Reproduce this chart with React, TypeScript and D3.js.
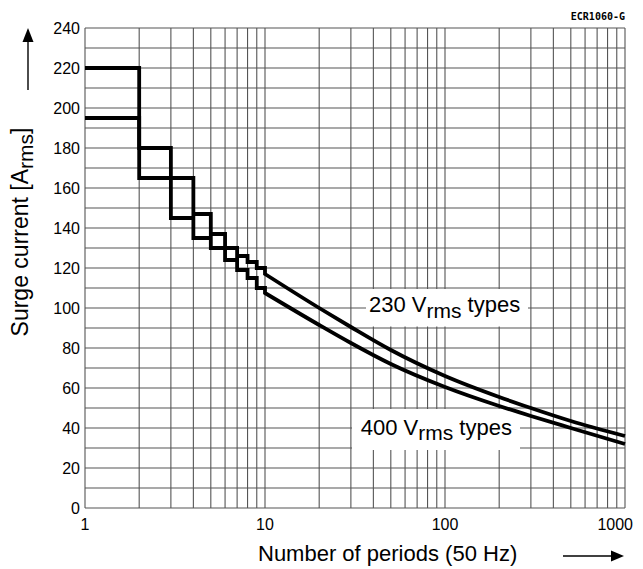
import React from "react";
import * as d3 from "d3";

// Surge current vs. number of 50 Hz periods
const yTicks = [0, 20, 40, 60, 80, 100, 120, 140, 160, 180, 200, 220, 240];
const xTicks = [1, 10, 100, 1000];
const xTickLabels = ["1", "10", "100", "1000"];

// stepped part: one value per period interval [n, n+1)
const periodsStep = [1, 2, 3, 4, 5, 6, 7, 8, 9, 10];
const surge230Step = [220, 180, 165, 147, 137, 130, 126, 123, 120];
const surge400Step = [195, 165, 145, 135, 130, 124, 119, 115, 110];

// continuous part from 10 periods on
const periodsCurve = [10, 20, 30, 50, 100, 200, 300, 500, 1000];
const surge230Curve = [117, 100, 90.5, 79, 66, 55.5, 50, 43.5, 36];
const surge400Curve = [107.5, 91.5, 82.5, 72, 60.5, 51, 46, 40, 32];

const W = 643;
const H = 569;
const FONT = "'Liberation Sans', Arial, Helvetica, sans-serif";

export default function App() {
  const x = d3.scaleLog().domain([1, 1000]).range([85, 625]);
  const y = d3.scaleLinear().domain([0, 240]).range([508, 28]);

  const vGrid: number[] = [];
  for (let dec = 1; dec < 1000; dec *= 10) {
    for (let k = 1; k <= 10; k++) vGrid.push(dec * k);
  }
  const uniqV = Array.from(new Set(vGrid));
  const hGrid = d3.range(0, 241, 10);

  const stepLine = d3
    .line<[number, number]>()
    .x((d) => x(d[0]))
    .y((d) => y(d[1]))
    .curve(d3.curveStepAfter);
  const smoothLine = d3
    .line<[number, number]>()
    .x((d) => x(d[0]))
    .y((d) => y(d[1]))
    .curve(d3.curveMonotoneX);

  const buildPath = (steps: number[], curve: number[]) => {
    const stepPts: [number, number][] = steps.map((v, i) => [periodsStep[i], v]);
    stepPts.push([periodsStep[steps.length], curve[0]]);
    const curvePts: [number, number][] = periodsCurve.map((p, i) => [p, curve[i]]);
    const a = stepLine(stepPts) || "";
    const b = (smoothLine(curvePts) || "").replace(/^M/, "L");
    return a + b;
  };

  const path230 = buildPath(surge230Step, surge230Curve);
  const path400 = buildPath(surge400Step, surge400Curve);

  const gridColor = "#555";

  return (
    <svg
      width={W}
      height={H}
      viewBox={`0 0 ${W} ${H}`}
      style={{ position: "absolute", left: 0, top: 0, background: "#fff" }}
      fontFamily={FONT}
    >
      <rect x={0} y={0} width={W} height={H} fill="#fff" />

      {/* grid */}
      <g stroke={gridColor} strokeWidth={1.1}>
        {hGrid.map((v) => (
          <line key={"h" + v} x1={x(1)} x2={x(1000)} y1={y(v)} y2={y(v)} />
        ))}
        {uniqV.map((v) => (
          <line key={"v" + v} x1={x(v)} x2={x(v)} y1={y(0)} y2={y(240)} />
        ))}
      </g>

      {/* label backgrounds */}
      <rect x={366} y={289} width={162} height={37.5} fill="#fff" />
      <rect x={352} y={409} width={168} height={41} fill="#fff" />

      {/* curves */}
      <g fill="none" stroke="#000" strokeWidth={3.8} strokeLinejoin="miter">
        <path d={path230} />
        <path d={path400} />
      </g>

      {/* y tick labels */}
      <g fontSize={16} textAnchor="end" fill="#000">
        {yTicks.map((v) => (
          <text key={"yt" + v} x={80} y={y(v) + 5.8}>
            {v}
          </text>
        ))}
      </g>

      {/* x tick labels */}
      <g fontSize={16} fill="#000">
        {xTicks.map((v, i) => {
          const last = i === xTicks.length - 1;
          return (
            <text
              key={"xt" + v}
              x={last ? x(v) + 8 : x(v)}
              y={530}
              textAnchor={last ? "end" : "middle"}
            >
              {xTickLabels[i]}
            </text>
          );
        })}
      </g>

      {/* series labels */}
      <text x={369} y={312.3} fontSize={22} fill="#000">
        230 V
        <tspan fontSize={21} dy={5.4}>rms</tspan>
        <tspan dy={-5.4}> types</tspan>
      </text>
      <text x={360.7} y={435} fontSize={22} fill="#000">
        400 V
        <tspan fontSize={21} dy={5.4}>rms</tspan>
        <tspan dy={-5.4}> types</tspan>
      </text>

      {/* y axis title */}
      <text
        transform="translate(28,232) rotate(-90)"
        textAnchor="middle"
        fontSize={23}
        fill="#000"
      >
        Surge current [A
        <tspan fontSize={21} dy={5}>rms</tspan>
        <tspan dy={-5}>]</tspan>
      </text>

      {/* x axis title */}
      <text x={258} y={561} fontSize={22} fill="#000">
        Number of periods (50 Hz)
      </text>

      {/* arrows */}
      <line x1={28} x2={28} y1={90} y2={40} stroke="#000" strokeWidth={1.4} />
      <path d="M28,28 L22.5,42 L33.5,42 Z" fill="#000" />
      <line x1={563} x2={612} y1={556} y2={556} stroke="#000" strokeWidth={1.4} />
      <path d="M624,556 L611,550.5 L611,561.5 Z" fill="#000" />

      {/* drawing reference */}
      <text
        x={625}
        y={20}
        fontSize={10}
        fontWeight="bold"
        textAnchor="end"
        fill="#000"
        fontFamily="'DejaVu Sans Mono', monospace"
      >
        ECR1060-G
      </text>
    </svg>
  );
}
